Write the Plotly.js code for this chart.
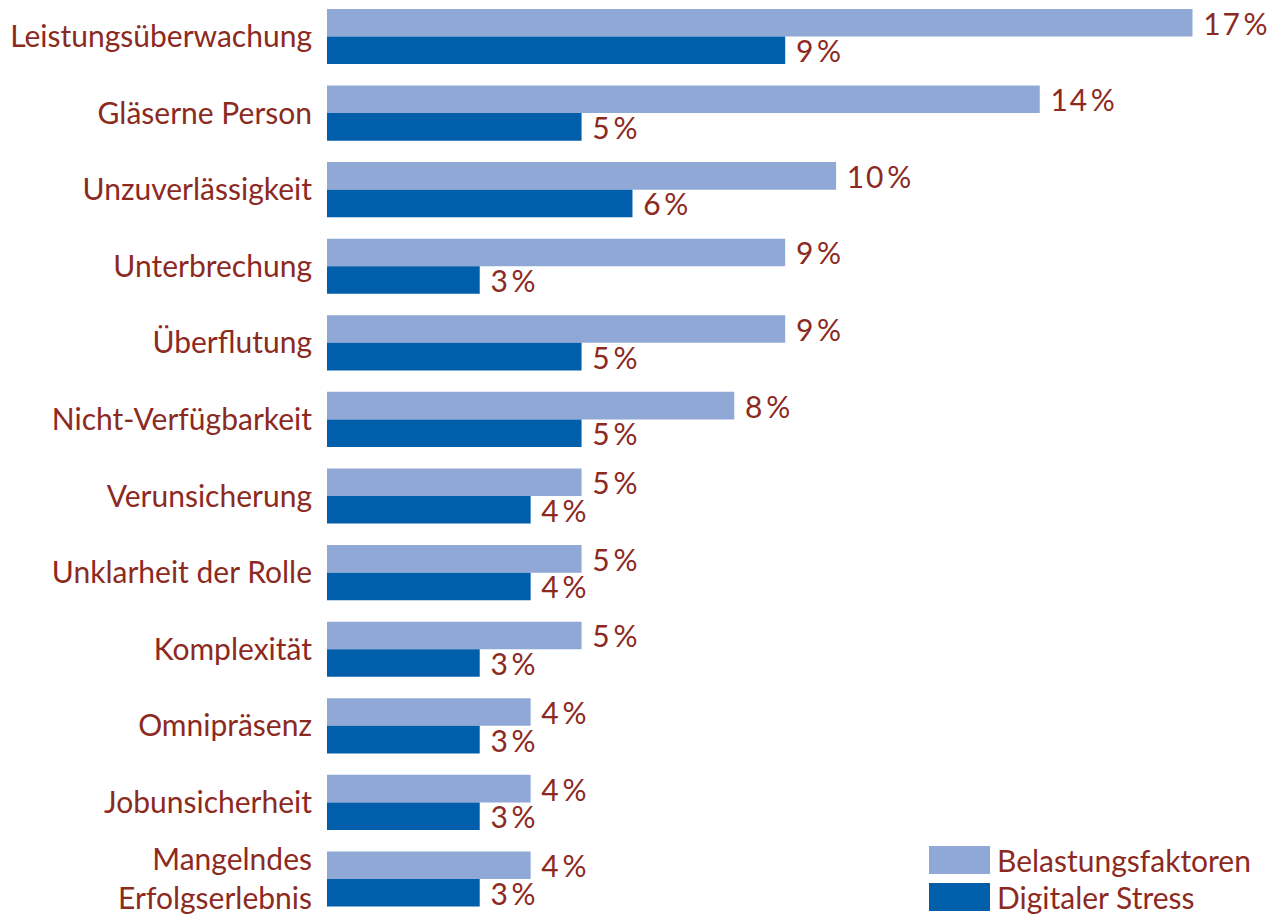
<!DOCTYPE html>
<html><head><meta charset="utf-8">
<script src="https://cdn.plot.ly/plotly-3.0.1.min.js"></script>
<style>html,body{margin:0;padding:0;background:#fff;}#chart{width:1277px;height:917px;}</style>
</head><body><div id="chart"></div>
<script>
const categories = ["Leistungsüberwachung","Gläserne Person","Unzuverlässigkeit","Unterbrechung","Überflutung","Nicht-Verfügbarkeit","Verunsicherung","Unklarheit der Rolle","Komplexität","Omnipräsenz","Jobunsicherheit","Mangelndes<br>Erfolgserlebnis"];
const belastung = [17,14,10,9,9,8,5,5,5,4,4,4];
const stress = [9,5,6,3,5,5,4,4,3,3,3,3];
const seriesNames = ["Belastungsfaktoren","Digitaler Stress"];
const colors = ["#8FA8D6","#005EAB"];
const textColor = "#8C2A1F";
const fontFam = "Lato, 'Open Sans', sans-serif";

const mk = (vals, i) => ({
  type: 'bar', orientation: 'h', name: seriesNames[i],
  y: categories, x: vals,
  marker: {color: colors[i]},
  text: vals.map(v => '\u00a0' + String(v).split('').join('\u200a') + '\u2009%'),
  textposition: 'outside', cliponaxis: false, constraintext: 'none',
  textfont: {family: fontFam, size: 30, color: textColor},
  hoverinfo: 'none'
});

const data = [mk(belastung,0), mk(stress,1)];
const layout = {
  width: 1277, height: 917,
  margin: {l: 327, r: 0, t: 0, b: 0},
  paper_bgcolor: '#fff', plot_bgcolor: '#fff',
  barmode: 'group', bargap: 0.28, bargroupgap: 0,
  showlegend: false,
  font: {family: fontFam, color: textColor},
  xaxis: {range: [0, 18.66], visible: false, fixedrange: true},
  yaxis: {type: 'category', range: [11.496, -0.476], showgrid: false, zeroline: false, showline: false,
          ticks: '', ticklabelstandoff: 14, tickfont: {family: fontFam, size: 30, color: textColor}},
  shapes: [
    {type:'rect', xref:'paper', yref:'paper', x0:(929-327)/950, x1:(990-327)/950, y0:1-874/917, y1:1-846/917, fillcolor:colors[0], line:{width:0}},
    {type:'rect', xref:'paper', yref:'paper', x0:(929-327)/950, x1:(990-327)/950, y0:1-911/917, y1:1-883/917, fillcolor:colors[1], line:{width:0}}
  ],
  annotations: [
    {xref:'paper', yref:'paper', x:(995-327)/950, y:1-860/917, xanchor:'left', yanchor:'middle', showarrow:false, text:seriesNames[0], font:{family:fontFam, size:30, color:textColor}},
    {xref:'paper', yref:'paper', x:(995-327)/950, y:1-897/917, xanchor:'left', yanchor:'middle', showarrow:false, text:seriesNames[1], font:{family:fontFam, size:30, color:textColor}}
  ]
};
Plotly.newPlot('chart', data, layout, {displayModeBar: false, staticPlot: true});
</script></body></html>
